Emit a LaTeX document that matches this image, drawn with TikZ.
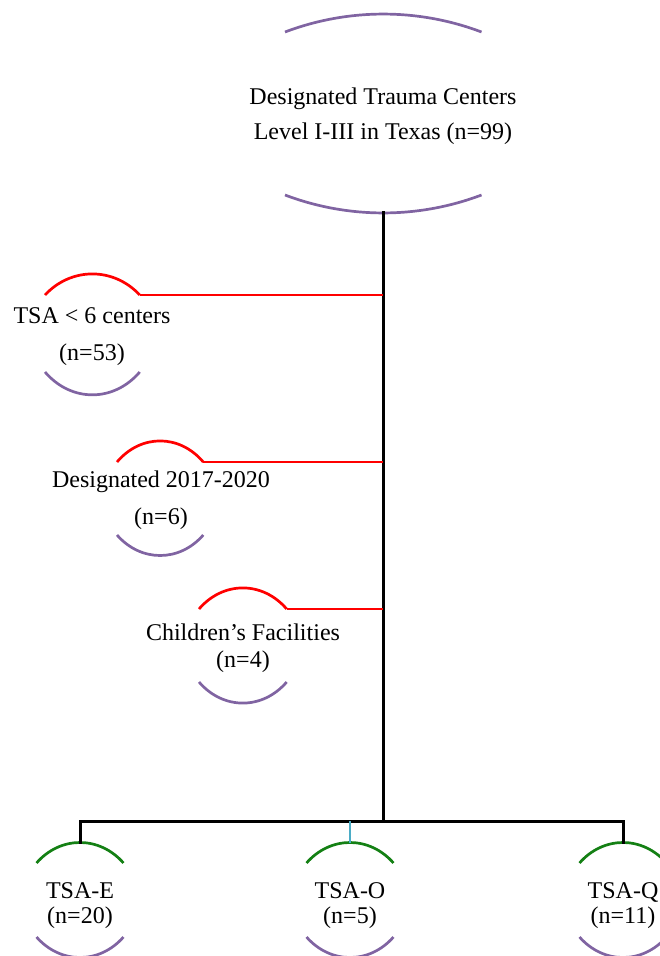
\documentclass[tikz,border=0pt]{standalone}
\usepackage{fontspec}
\setmainfont{Liberation Serif}
\definecolor{capviolet}{RGB}{128,100,162}
\definecolor{capred}{RGB}{255,0,0}
\definecolor{capgreen}{RGB}{20,128,20}
\definecolor{linkcyan}{RGB}{75,172,198}

\begin{document}
\begin{tikzpicture}[x=1pt,y=1pt,
  label text/.style={align=center,inner sep=0pt},
  arcline/.style={line width=2.7pt},
  spine/.style={line width=3pt,black},
  exclude/.style={line width=2.6pt,capred}]
\useasboundingbox (0,0) rectangle (659,-956);

%main box
\node[label text,font=\fontsize{24}{35}\selectfont] (top) at (383,-116.5) {Designated Trauma Centers\\Level I-III in Texas (n=99)};
\draw[arcline,capviolet] (285,-32) arc[start angle=110.7,end angle=69.3,radius=278];
\draw[arcline,capviolet] (285,-195) arc[start angle=249.3,end angle=290.7,radius=278];
\coordinate (top-s) at (383,-211);
\coordinate (fork) at (383,-821);
\draw[spine] (top-s) -- (fork);

%exclusions
\node[label text,font=\fontsize{24}{37}\selectfont] (tsa) at (92,-336.5) {TSA {\char"3C} 6 centers\\(n=53)};
\draw[arcline,capred] (45,-295) arc[start angle=135,end angle=45,x radius=67,y radius=72] coordinate (tsa-r);
\draw[arcline,capviolet] (45,-372) arc[start angle=225,end angle=315,x radius=67,y radius=78];
\draw[exclude] (tsa-r) -- (tsa-r -| fork);

\node[label text,font=\fontsize{24}{37}\selectfont] (desig) at (161,-500.5) {Designated 2017-2020\\(n=6)};
\draw[arcline,capred] (117,-462) arc[start angle=135,end angle=45,x radius=61,y radius=72] coordinate (desig-r);
\draw[arcline,capviolet] (117,-535) arc[start angle=225,end angle=315,x radius=61,y radius=70];
\draw[exclude] (desig-r) -- (desig-r -| fork);

\node[label text,font=\fontsize{24}{27}\selectfont] (child) at (243,-648.5) {Children’s Facilities\\(n=4)};
\draw[arcline,capred] (199,-609) arc[start angle=135,end angle=45,x radius=62,y radius=72] coordinate (child-r);
\draw[arcline,capviolet] (199,-682) arc[start angle=225,end angle=315,x radius=62,y radius=72];
\draw[exclude] (child-r) -- (child-r -| fork);

%regions
\foreach \name/\cx/\txt in {tsae/80/TSA-E\\(n=20), tsao/350/TSA-O\\(n=5), tsaq/623/TSA-Q\\(n=11)}{
  \node[label text,font=\fontsize{24}{25}\selectfont] (\name) at (\cx,-905.5) {\txt};
  \draw[arcline,capgreen] (\cx-43.5,-863) arc[start angle=135,end angle=45,x radius=61.5,y radius=70];
  \draw[arcline,capviolet] (\cx-43.5,-937) arc[start angle=225,end angle=315,x radius=61.5,y radius=70];
  \coordinate (\name-t) at (\cx,-842.5);
}
\draw[spine,line cap=rect] (tsae-t) |- (fork) -| (tsaq-t);
\draw[line width=2pt,linkcyan] (tsao-t) -- (tsao-t |- fork);
\end{tikzpicture}
\end{document}
